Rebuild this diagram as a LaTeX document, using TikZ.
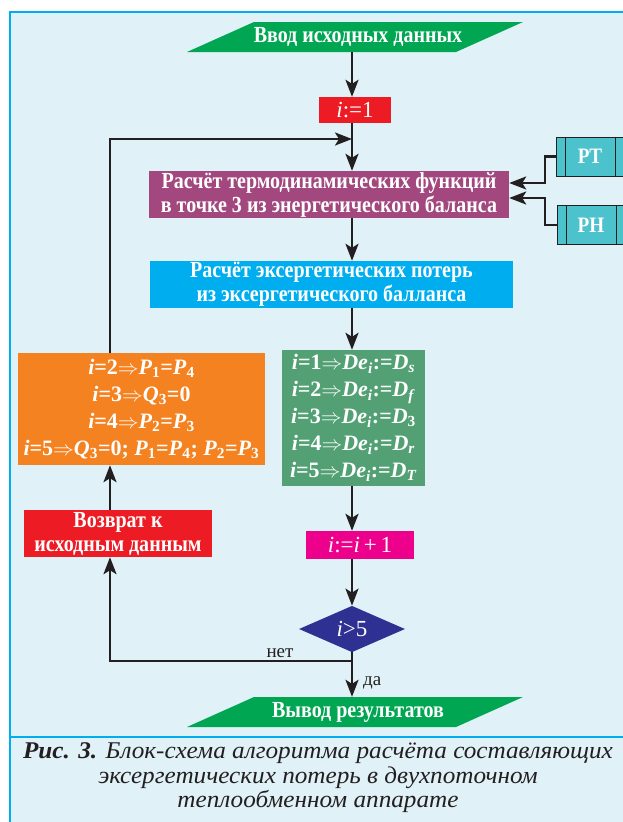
\documentclass[tikz,border=0pt]{standalone}
\usepackage{fontspec}
\setmainfont{Liberation Serif}
\newfontfamily\cond[FakeStretch=0.87]{Liberation Serif}
\newfontfamily\capfont[FakeStretch=1.05]{Liberation Serif}
\usetikzlibrary{arrows.meta,shapes.geometric}
\definecolor{bgc}{RGB}{224,241,248}
\definecolor{framec}{RGB}{0,174,239}
\definecolor{iogreen}{RGB}{0,166,81}
\definecolor{redc}{RGB}{237,28,36}
\definecolor{purplec}{RGB}{163,71,127}
\definecolor{cyanc}{RGB}{0,174,239}
\definecolor{greenc}{RGB}{82,160,115}
\definecolor{orangec}{RGB}{245,130,32}
\definecolor{pinkc}{RGB}{236,0,140}
\definecolor{bluec}{RGB}{46,49,146}
\definecolor{tealc}{RGB}{76,195,204}
\definecolor{linec}{RGB}{35,31,32}
\newcommand\vi[1]{\textit{#1}}
\newcommand\sbs[1]{\textsubscript{#1}}
\newcommand\imp{$\Rightarrow$}
\begin{document}
\begin{tikzpicture}[x=1pt,y=-1pt,
  boxst/.style={rectangle,inner sep=0pt,text=white,align=center,
    font=\cond\bfseries\fontsize{23}{24}\selectfont},
  mathst/.style={rectangle,inner sep=0pt,text=white,align=center,
    font=\bfseries\fontsize{22}{27}\selectfont},
  store/.style={rectangle,draw=linec,line width=1pt,fill=tealc,text=white,
    inner sep=0pt,minimum width=68pt,minimum height=39pt,
    font=\cond\bfseries\fontsize{22}{24}\selectfont},
  arr/.style={draw=linec,line width=2.4pt,-{Stealth[length=17pt,width=13pt,inset=4pt]}},
  ln/.style={draw=linec,line width=2.4pt},
  lbl/.style={text=linec,font=\fontsize{19}{20}\selectfont,inner sep=1pt}]
\useasboundingbox (0,0) rectangle (623,822);
\fill[white] (0,0) rectangle (623,822);
\draw[draw=framec,fill=bgc,line width=2.5pt] (10,12) rectangle (650,850);
\draw[draw=framec,line width=2.5pt] (10,737) -- (650,737);
\coordinate (ax) at (352,0);
\coordinate (lx) at (110,0);
\coordinate (kx) at (545,0);
% input / output
\fill[iogreen] (187,52) -- (254,22) -- (523,22) -- (456,52) -- cycle;
\node[boxst,minimum width=200pt,minimum height=30pt] (in) at (358,37) {Ввод исходных данных};
\fill[iogreen] (187,727) -- (254,697) -- (523,697) -- (456,727) -- cycle;
\node[boxst,minimum width=200pt,minimum height=30pt] (out) at (358,712) {Вывод результатов};
% boxes
\node[mathst,fill=redc,minimum width=72pt,minimum height=26pt,font=\fontsize{23}{24}\selectfont] (i1) at (355,110) {\vi{i}:=1};
\node[boxst,fill=purplec,minimum width=360pt,minimum height=47pt] (th) at (329,194.5)
  {Расчёт термодинамических функций\\в точке 3 из энергетического баланса};
\node[boxst,fill=cyanc,minimum width=363pt,minimum height=47pt] (ex) at (331.5,284.5)
  {Расчёт эксергетических потерь\\из эксергетического балланса};
\node[mathst,fill=greenc,minimum width=143pt,minimum height=136pt] (gr) at (353.5,418)
  {\vi{i}=1\imp\vi{De}\sbs{\vi{i}}:=\vi{D}\sbs{\vi{s}}\\
   \vi{i}=2\imp\vi{De}\sbs{\vi{i}}:=\vi{D}\sbs{\vi{f}}\\
   \vi{i}=3\imp\vi{De}\sbs{\vi{i}}:=\vi{D}\sbs{3}\\
   \vi{i}=4\imp\vi{De}\sbs{\vi{i}}:=\vi{D}\sbs{\vi{r}}\\
   \vi{i}=5\imp\vi{De}\sbs{\vi{i}}:=\vi{D}\sbs{\vi{T}}};
\node[mathst,fill=orangec,minimum width=247pt,minimum height=112pt] (or) at (141.5,409)
  {\vi{i}=2\imp\vi{P}\sbs{1}=\vi{P}\sbs{4}\\
   \vi{i}=3\imp\vi{Q}\sbs{3}=0\\
   \vi{i}=4\imp\vi{P}\sbs{2}=\vi{P}\sbs{3}\\
   \vi{i}=5\imp\vi{Q}\sbs{3}=0; \vi{P}\sbs{1}=\vi{P}\sbs{4}; \vi{P}\sbs{2}=\vi{P}\sbs{3}};
\node[boxst,fill=redc,minimum width=188pt,minimum height=47pt] (rd) at (118,533.5)
  {Возврат к\\исходным данным};
\node[mathst,fill=pinkc,minimum width=108pt,minimum height=28pt,font=\fontsize{23}{24}\selectfont] (pk) at (360,545) {\vi{i}:=\vi{i}\,+\,1};
\node[diamond,fill=bluec,text=white,inner sep=0pt,minimum width=106pt,minimum height=46pt,
  font=\fontsize{23}{24}\selectfont] (dm) at (352,629) {\vi{i}>5};
\node[store] (pt) at (590,156.5) {PT};
\node[store] (ph) at (591,225) {PH};
\foreach \n in {pt,ph}{
  \draw[linec,line width=1pt] ([xshift=10pt]\n.north west) -- ([xshift=10pt]\n.south west);
  \draw[linec,line width=1pt] ([xshift=-9pt]\n.north east) -- ([xshift=-9pt]\n.south east);
}
% connectors
\coordinate (mrg) at (352,139);
\coordinate (split) at (352,661);
\draw[arr] (in.south -| ax) -- (i1.north -| ax);
\draw[ln] (i1.south -| ax) -- (mrg);
\draw[arr] (mrg) -- (th.north -| ax);
\draw[arr] (or.north -| lx) |- (mrg);
\draw[arr] (th.south -| ax) -- (ex.north -| ax);
\draw[arr] (ex.south -| ax) -- (gr.north -| ax);
\draw[arr] (gr.south -| ax) -- (pk.north -| ax);
\draw[arr] (pk.south -| ax) -- (dm.north);
\draw[ln] (dm.south) -- (split);
\draw[arr] (split) -| (rd.south -| lx);
\draw[arr] (split) -- (out.north -| ax);
\draw[arr] (rd.north -| lx) -- (or.south -| lx);
\draw[arr] (pt.west) -- (pt.west -| kx) |- ([yshift=11.5pt]th.east);
\draw[arr] (ph.west) -- (ph.west -| kx) |- ([yshift=-3.5pt]th.east);
\node[lbl,anchor=south] (no) at (280,659) {нет};
\node[lbl,anchor=west] (yes) at (362,683) {да};
% caption
\node[text=linec,align=center,inner sep=0pt,font=\capfont\itshape\fontsize{24}{24.5}\selectfont] (cap) at (318,778)
  {\textbf{Рис. 3.} Блок-схема алгоритма расчёта составляющих\\
   эксергетических потерь в двухпоточном\\
   теплообменном аппарате};
\end{tikzpicture}
\end{document}
